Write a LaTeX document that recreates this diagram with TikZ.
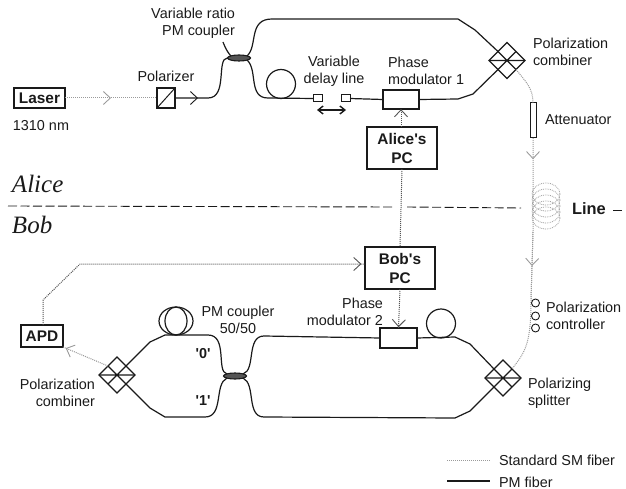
\documentclass[tikz,border=0pt]{standalone}
\usepackage{fontspec}
\setmainfont{Liberation Sans}
\newfontfamily\serifit{Liberation Serif}[ItalicFont=* Italic]
\usetikzlibrary{arrows.meta,shapes.geometric,decorations.markings}
\definecolor{ink}{HTML}{1A1A1A}
\definecolor{smfiber}{HTML}{9A9A9A}
\definecolor{wire}{HTML}{555555}
\tikzset{
  every node/.style={text=ink,font=\fontsize{14.4}{17}\selectfont,inner sep=0pt,outer sep=0pt},
  lab/.style={align=left,anchor=west},
  labr/.style={align=right,anchor=east},
  labc/.style={align=center},
  devbox/.style={draw=ink,line width=1.3pt,fill=white,font=\fontsize{15.4}{19}\selectfont\bfseries,align=center},
  splitter/.style={diamond,aspect=1,draw=ink,line width=1.1pt,fill=white,minimum size=36pt,
    path picture={\draw[ink,line width=1.1pt] (path picture bounding box.north west)--(path picture bounding box.south east)
      (path picture bounding box.north east)--(path picture bounding box.south west)
      (path picture bounding box.west)--(path picture bounding box.east);}},
  fibcoupler/.style={ellipse,draw=ink,line width=1.1pt,fill=wire,minimum width=23pt,minimum height=6pt},
  pm/.style={ink,line width=1.2pt},
  sm/.style={smfiber,line width=1pt,densely dotted},
  ctrl/.style={wire,line width=1pt,densely dotted},
  barb/.style={postaction={decorate},decoration={markings,mark=at position #1 with {\arrow[solid]{Straight Barb[length=7pt,width=13pt,line width=.9pt]}}}}
}
\begin{document}
\begin{tikzpicture}[x=1pt,y=-1pt]
  \useasboundingbox (0,0) rectangle (626,489);
  % Alice side
  \node[devbox,minimum width=51pt,minimum height=20pt] (laser) at (39.5,98){Laser};
  \node[labc] (wavelength) at (41,126){1310 nm};
  \node[draw=ink,line width=1.1pt,minimum width=18pt,minimum height=20pt,
    path picture={\draw[ink,line width=1pt] (path picture bounding box.south west)--(path picture bounding box.north east);}] (polarizer) at (166,98){};
  \node[labc] (polarizerlab) at (166,76){Polarizer};
  \node[fibcoupler] (vrcoupler) at (239,58){};
  \node[labr] (vrcouplerlab) at (235,23){Variable ratio\\PM coupler};
  \coordinate (vrstub) at (223,42);
  \node[draw=ink,line width=1pt,fill=white,minimum width=9pt,minimum height=7pt] (delayl) at (318,98.5){};
  \node[draw=ink,line width=1pt,fill=white,minimum width=9pt,minimum height=7pt] (delayr) at (345.5,98.5){};
  \node[labc] (delaylab) at (334,71){Variable\\delay line};
  \coordinate (delaya) at (317,110);
  \coordinate (delayb) at (346,110);
  \node[draw=ink,line width=1.1pt,fill=white,minimum width=36pt,minimum height=19pt] (pm1) at (401,99.5){};
  \node[lab] (pm1lab) at (388,71){Phase\\modulator 1};
  \node[splitter] (combtop) at (507,60.5){};
  \node[lab] (combtoplab) at (533,52){Polarization\\combiner};
  \node[draw=ink,line width=1pt,fill=white,minimum width=6pt,minimum height=35pt] (atten) at (533,120.5){};
  \node[lab] (attenlab) at (545,120){Attenuator};
  \node[devbox,minimum width=70pt,minimum height=42pt] (alicepc) at (402,148){Alice\textquotesingle s\\PC};
  % line and parties
  \node[font=\serifit\itshape\fontsize{25}{25}\selectfont,anchor=west] (alice) at (12,184){Alice};
  \node[font=\serifit\itshape\fontsize{25}{25}\selectfont,anchor=west] (bob) at (12,225){Bob};
  \coordinate (cuta) at (8,206);
  \coordinate (cutb) at (392,207);
  \coordinate (cutc) at (407,207);
  \coordinate (cutd) at (521,208);
  \draw[ink,line width=.9pt,dash pattern=on 9pt off 3.5pt] (cuta)--(cutb) (cutc)--(cutd);
  \node[font=\fontsize{16.4}{17}\selectfont\bfseries,anchor=west] (linelab) at (572,209){Line};
  \coordinate (lineda) at (613,210);
  \coordinate (linedb) at (622,210);
  \draw[ink,line width=.9pt] (lineda)--(linedb);
  \coordinate (coilc) at (546,206);
  \foreach \dy in {-12,-6,0,6,12}
    \draw[smfiber,line width=.8pt,densely dotted] ([yshift=\dy pt]coilc) ellipse [x radius=14,y radius=11];
  % Bob side
  \node[devbox,minimum width=70pt,minimum height=42pt] (bobpc) at (400,268){Bob\textquotesingle s\\PC};
  \node[devbox,minimum width=42pt,minimum height=22pt] (apd) at (42,336){APD};
  \coordinate (apdup) at (43,300);
  \coordinate (apdtop) at (80,264);
  \node[labc] (pmcouplerlab) at (238,319.5){PM coupler\\50/50};
  \node[fibcoupler] (pmcoupler) at (235,376){};
  \node[font=\fontsize{14.4}{17}\selectfont\bfseries] (zero) at (203,354){\textquotesingle 0\textquotesingle};
  \node[font=\fontsize{14.4}{17}\selectfont\bfseries] (one) at (203,401){\textquotesingle 1\textquotesingle};
  \node[splitter] (combbot) at (117,375){};
  \node[labr] (combbotlab) at (95,393){Polarization\\combiner};
  \node[draw=ink,line width=1.1pt,fill=white,minimum width=37pt,minimum height=20pt] (pm2) at (398.5,338){};
  \node[labr] (pm2lab) at (383,312){Phase\\modulator 2};
  \node[splitter] (split) at (503,378){};
  \node[lab] (splitlab) at (528,393){Polarizing\\splitter};
  \node[lab] (pclab) at (546,316){Polarization\\controller};
  % legend
  \coordinate (legsma) at (447,460);
  \coordinate (legsmb) at (490,460);
  \coordinate (legpma) at (447,481);
  \coordinate (legpmb) at (490,481);
  \node[lab] (legsm) at (499,460){Standard SM fiber};
  \node[lab] (legpm) at (499,482){PM fiber};
  \draw[sm] (legsma)--(legsmb);
  \draw[pm] (legpma)--(legpmb);
  % PM fiber, Alice
  \draw[pm,barb=.28] (polarizer.east) -- (208,98) .. controls (228,98) and (216,58) .. (vrcoupler.west);
  \draw[pm] (vrstub) .. controls (226,50) and (229,54) .. (vrcoupler.north west);
  \draw[pm] (vrcoupler.north east) .. controls (258,46) and (248,19) .. (272,19) -- (458,19) -- (475,30) -- (combtop.north west);
  \draw[pm] (vrcoupler.south east) .. controls (258,70) and (248,98) .. (268,98) -- (delayl.west);
  \draw[pm] (281,84) circle [radius=14.5];
  \draw[pm] (delayr.east)--(pm1.west);
  \draw[pm] (pm1.east) -- (458,99) -- (473,94) -- (combtop.south west);
  \draw[{Straight Barb[length=5pt,width=8pt]}-{Straight Barb[length=5pt,width=8pt]},ink,line width=1.4pt] (delaya)--(delayb);
  % SM fiber
  \draw[sm,barb=.5] (laser.east)--(polarizer.west);
  \draw[sm] (combtop.south east) .. controls (526,82) and (533,88) .. (atten.north);
  \draw[sm,barb=.09] (atten.south)--(533,232) -- (531,300) .. controls (531,345) and (525,352) .. (split.north east);
  \draw[sm,barb=.5] (533,232)--(531,300);
  \foreach \cy in {303,316,328}
    \draw[ink,line width=.9pt,fill=white] (535.5,\cy) circle [radius=4];
  \draw[sm,barb=.94] (combbot.north west)--(apd.south east);
  % control lines
  \draw[ctrl,barb=.99] (alicepc.north-|pm1.south)--(pm1.south);
  \draw[ctrl] (alicepc.south)--(bobpc.north);
  \draw[ctrl,barb=.98] (bobpc.south)--(pm2.north);
  \draw[ctrl,barb=.99] (apd.north-|apdup)--(apdup)--(apdtop)--(bobpc.west|-apdtop);
  % PM fiber, Bob
  \draw[pm] (combbot.north east) -- (150,342) -- (165,335) -- (208,335) .. controls (228,335) and (216,372) .. (pmcoupler.north west);
  \draw[pm] (combbot.south east) -- (150,408) -- (165,417) -- (205,417) .. controls (224,417) and (214,384) .. (pmcoupler.south west);
  \draw[pm] (pmcoupler.north east) .. controls (256,370) and (246,336) .. (264,336) -- (pm2.west);
  \draw[pm] (pmcoupler.south east) .. controls (256,384) and (246,417) .. (264,417) -- (455,418) -- (470,411) -- (split.south west);
  \draw[pm] (pm2.east) -- (455,337) -- (470,344) -- (split.north west);
  \draw[pm] (441,323.5) circle [radius=14.5];
  \draw[pm] (176,321) ellipse [x radius=17,y radius=14];
  \draw[pm] (176,321) ellipse [x radius=11,y radius=14];
\end{tikzpicture}
\end{document}
